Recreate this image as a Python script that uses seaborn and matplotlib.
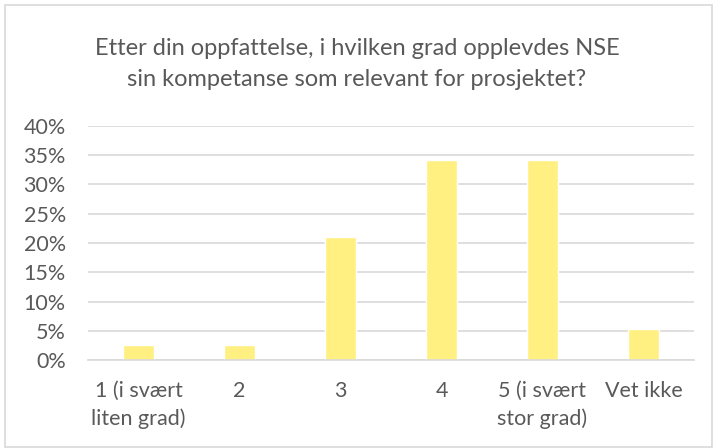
import matplotlib
matplotlib.use("Agg")
import matplotlib.pyplot as plt
import seaborn as sns
import pandas as pd
from matplotlib.patches import Rectangle
from matplotlib.ticker import PercentFormatter

categories = ["1 (i svært\nliten grad)", "2", "3", "4", "5 (i svært\nstor grad)", "Vet ikke"]
shares = [2.63, 2.63, 21.05, 34.21, 34.21, 5.26]

df = pd.DataFrame({"kategori": categories, "andel": shares})

sns.set_style("white")
plt.rcParams["font.family"] = ["Lato", "DejaVu Sans"]

fig = plt.figure(figsize=(7.14, 4.48), dpi=100)
ax = fig.add_axes([88 / 714, 1 - 360 / 448, (694 - 88) / 714, (360 - 126) / 448])

sns.barplot(data=df, x="kategori", y="andel", color="#FFF081", saturation=1,
            width=0.31, ax=ax)

ax.set_ylim(0, 40)
ax.set_yticks(range(0, 41, 5))
ax.yaxis.set_major_formatter(PercentFormatter(decimals=0))
ax.grid(axis="y", color="#D9D9D9", linewidth=1.2)
ax.set_axisbelow(True)
for s in ["top", "right", "left"]:
    ax.spines[s].set_visible(False)
ax.spines["bottom"].set_color("#D9D9D9")
ax.spines["bottom"].set_linewidth(1.2)
ax.set_xlabel("")
ax.set_ylabel("")
ax.tick_params(axis="both", length=0, labelsize=15.5, labelcolor="#595959")
ax.tick_params(axis="y", pad=16)
ax.tick_params(axis="x", pad=15)
for lbl in ax.get_xticklabels():
    lbl.set_linespacing(1.45)

fig.text(0.5, 1 - 64 / 448, "Etter din oppfattelse, i hvilken grad opplevdes NSE\nsin kompetanse som relevant for prosjektet?",
         ha="center", va="center", fontsize=17, color="#595959", linespacing=1.55)

fig.patches.append(Rectangle((5 / 714, 1 - 447 / 448), 707 / 714, 442 / 448,
                             transform=fig.transFigure, fill=False,
                             edgecolor="#D9D9D9", linewidth=1.2))

fig.savefig("out.png", dpi=100)
